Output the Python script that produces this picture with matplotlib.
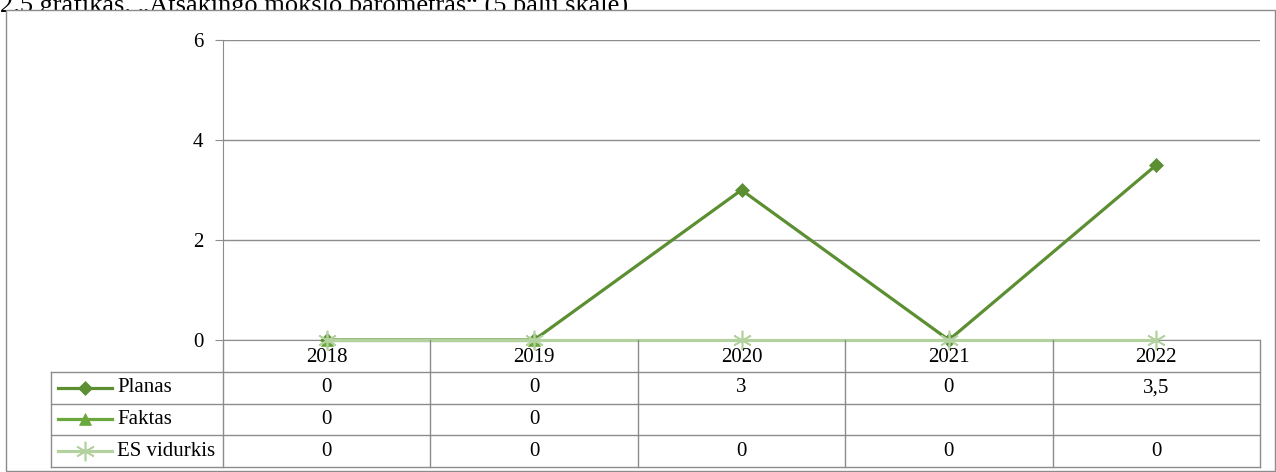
import matplotlib
matplotlib.use("Agg")
import matplotlib.pyplot as plt
import numpy as np
from matplotlib.patches import Rectangle

plt.rcParams["font.family"] = ["Liberation Serif", "DejaVu Serif"]
plt.rcParams["font.size"] = 15

years = ["2018", "2019", "2020", "2021", "2022"]
planas = [0, 0, 3, 0, 3.5]
faktas = [0, 0, None, None, None]
es_vidurkis = [0, 0, 0, 0, 0]

series = [
    ("Planas", planas, "#5b8f32", "D", 7),
    ("Faktas", faktas, "#6aa83e", "^", 8),
    ("ES vidurkis", es_vidurkis, "#b3d2a0", (6, 2, 0), 14),
]

GRAY = "#8c8c8c"
W, H = 1276, 472


def fmt(v):
    if v is None:
        return ""
    s = f"{v:g}"
    return s.replace(".", ",")


fig = plt.figure(figsize=(W / 100, H / 100), dpi=100)

# title, partly hidden behind the chart frame (as in the source picture)
fig.text(0.0, 1 - 13 / H, "2.5 grafikas. „Atsakingo mokslo barometras“ (5 balų skalė)",
         fontsize=19, ha="left", va="baseline", zorder=0.5)
fig.patches.append(Rectangle((6 / W, 1 / H), (W - 7) / W, (H - 11) / H,
                             transform=fig.transFigure, facecolor="white",
                             edgecolor=GRAY, linewidth=1, zorder=1))

ax = fig.add_axes([223 / W, (H - 340) / H, 1037 / W, 300 / H])
ax.set_zorder(2)
ax.patch.set_alpha(0)
x = np.arange(len(years))
for name, vals, color, marker, ms in series:
    y = np.array([np.nan if v is None else v for v in vals], dtype=float)
    ax.plot(x, y, color=color, linewidth=2.3, marker=marker, markersize=ms,
            markeredgewidth=1.2 if marker == (6, 2, 0) else 0.5,
            markeredgecolor=color, clip_on=False, zorder=3)
ax.set_xlim(-0.5, len(years) - 0.5)
ax.set_ylim(0, 6)
ax.set_yticks([0, 2, 4, 6])
ax.set_xticks([])
ax.grid(axis="y", color=GRAY, linewidth=1)
for s in ["top", "right"]:
    ax.spines[s].set_visible(False)
for s in ["left", "bottom"]:
    ax.spines[s].set_color(GRAY)
ax.tick_params(axis="y", length=6, color=GRAY, pad=8, labelsize=15)

# data table below the plot
tab = fig.add_axes([223 / W, (H - 467) / H, 1037 / W, 127 / H])
tab.set_zorder(2)
tab.patch.set_alpha(0)
tab.set_xlim(-0.5, len(years) - 0.5)
tab.set_ylim(0, 4)
tab.axis("off")
left = -0.5 - 172 / 207.4
lkw = dict(color=GRAY, linewidth=1, clip_on=False)
for b in np.arange(-0.5, len(years), 1.0):
    tab.plot([b, b], [0, 4], **lkw)
tab.plot([left, left], [0, 3], **lkw)
for r in [0, 1, 2, 3]:
    tab.plot([left, len(years) - 0.5], [r, r], **lkw)
for i, yr in enumerate(years):
    tab.text(i, 3.45, yr, ha="center", va="center")
for k, (name, vals, color, marker, ms) in enumerate(series):
    ry = 2.5 - k
    tab.plot([-1.296, -1.035], [ry, ry], color=color, linewidth=2.3, clip_on=False)
    tab.plot([-1.165], [ry], marker=marker, color=color, markersize=ms,
             markeredgewidth=1.2 if marker == (6, 2, 0) else 0.5,
             markeredgecolor=color, clip_on=False)
    tab.text(-1.011, ry, name, ha="left", va="center")
    for i, v in enumerate(vals):
        tab.text(i, ry, fmt(v), ha="center", va="center")

fig.savefig("out.png", dpi=100)
